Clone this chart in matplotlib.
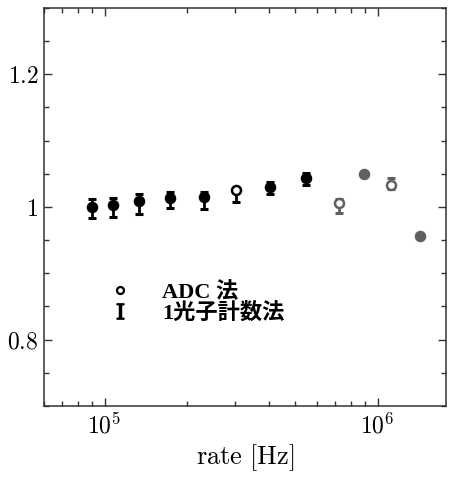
import numpy as np
import matplotlib
matplotlib.use("Agg")
import matplotlib.pyplot as plt
from matplotlib.lines import Line2D
from matplotlib.ticker import FixedLocator, FixedFormatter, LogLocator, NullFormatter

plt.rcParams['mathtext.fontset'] = 'cm'
plt.rcParams['font.family'] = ['DejaVu Serif']

# ---- data ----
rate = [9.0e4, 1.07e5, 1.34e5, 1.73e5, 2.31e5, 3.04e5, 4.05e5, 5.48e5,
        7.22e5, 8.91e5, 1.12e6, 1.43e6]
adc = [1.000, 1.003, 1.009, 1.013, 1.015, 1.025, 1.030, 1.044,
       1.006, 1.050, 1.033, 0.957]
pc = [0.9975, 0.999, 1.0045, 1.010, 1.010, 1.018, 1.028, 1.042,
      1.0015, np.nan, 1.035, np.nan]
pc_err = [0.0145, 0.0142, 0.015, 0.012, 0.013, 0.011, 0.009, 0.009,
          0.0105, np.nan, 0.008, np.nan]
adc_filled = [True, True, True, True, True, False, True, True,
              False, True, False, True]
faded = [False] * 8 + [True] * 4

yticks = [0.8, 1.0, 1.2]
ytick_labels = ['$0.8$', '$1$', '$1.2$']
xticks = [1e5, 1e6]
xtick_labels = ['$10^5$', '$10^6$']
legend_labels = ['ADC 法', '1光子計数法']
xlabel = r'$\mathrm{rate\ [Hz]}$'

# ---- figure ----
fig = plt.figure(figsize=(4.51, 4.79), dpi=100)
ax = fig.add_axes([44/451, 1 - 406/479, (446-44)/451, (406-8)/479])

for i in range(len(rate)):
    col = '#606060' if faded[i] else 'black'
    if not np.isnan(pc[i]):
        ax.errorbar([rate[i]], [pc[i]], yerr=[pc_err[i]], fmt='none',
                    ecolor=col, elinewidth=2.0, capsize=3.0, capthick=2.2, zorder=2)
    ax.plot([rate[i]], [adc[i]], ls='none', marker='o', markersize=6.5,
            markeredgewidth=1.8, markeredgecolor=col,
            markerfacecolor=col if adc_filled[i] else 'white', zorder=3)

ax.set_xscale('log')
ax.set_xlim(6.0e4, 1.78e6)
ax.set_ylim(0.70, 1.30)

ax.xaxis.set_major_locator(FixedLocator(xticks))
ax.xaxis.set_major_formatter(FixedFormatter(xtick_labels))
ax.xaxis.set_minor_locator(LogLocator(base=10, subs=np.arange(2, 10)))
ax.xaxis.set_minor_formatter(NullFormatter())
ax.yaxis.set_major_locator(FixedLocator(yticks))
ax.yaxis.set_major_formatter(FixedFormatter(ytick_labels))
ax.yaxis.set_minor_locator(FixedLocator(np.arange(0.70, 1.301, 0.05)))

ax.tick_params(which='both', direction='in', top=True, right=True,
               labelsize=17, colors='#333333', width=1.0)
ax.tick_params(which='major', length=6)
ax.tick_params(which='minor', length=3.5)
ax.tick_params(axis='x', pad=5)
ax.tick_params(axis='y', pad=4)
for lab in ax.get_xticklabels() + ax.get_yticklabels():
    lab.set_color('black')
for s in ax.spines.values():
    s.set_linewidth(1.1)
    s.set_color('#333333')

ax.set_xlabel(xlabel, fontsize=19, labelpad=3)

h1 = Line2D([], [], ls='none', marker='o', markersize=5, markeredgewidth=1.6,
            markeredgecolor='black', markerfacecolor='white')
h2 = Line2D([], [], ls='none', marker=r'$\mathrm{I}$', markersize=11,
            color='black')
leg = ax.legend([h1, h2], legend_labels, loc='upper left',
                bbox_to_anchor=(0.105, 0.362), frameon=False,
                handlelength=1.2, handletextpad=1.3, labelspacing=0.0,
                prop={'family': ['Liberation Serif', 'Noto Sans CJK JP'],
                      'size': 16, 'weight': 'bold'})

fig.savefig('out.png', dpi=100)
